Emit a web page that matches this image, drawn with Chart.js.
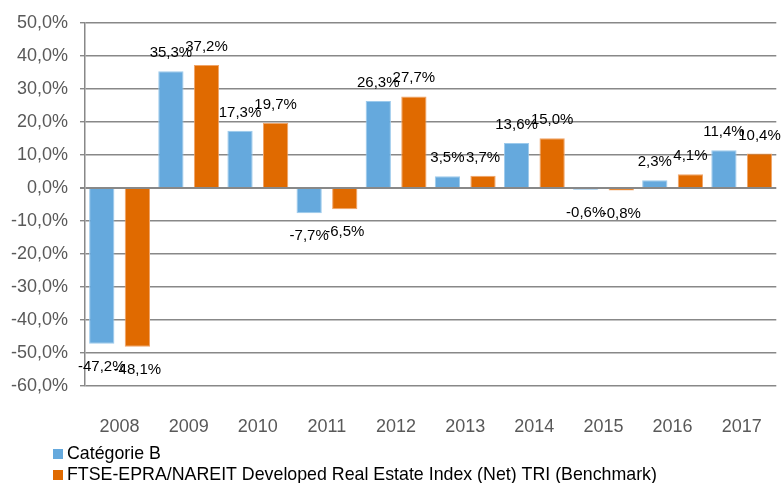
<!DOCTYPE html>
<html>
<head>
<meta charset="utf-8">
<script src="https://cdn.jsdelivr.net/npm/chart.js@4.4.1/dist/chart.umd.min.js"></script>
<style>
  html, body { margin: 0; padding: 0; background: #fff; }
  #wrap { width: 784px; height: 483px; }
</style>
</head>
<body>
<div id="wrap"><canvas id="c" width="784" height="483"></canvas></div>
<script>
const years = ['2008', '2009', '2010', '2011', '2012', '2013', '2014', '2015', '2016', '2017'];
const categorieB = [-47.2, 35.3, 17.3, -7.7, 26.3, 3.5, 13.6, -0.6, 2.3, 11.4];
const benchmark = [-48.1, 37.2, 19.7, -6.5, 27.7, 3.7, 15.0, -0.8, 4.1, 10.4];
const seriesNames = ['Catégorie B', 'FTSE-EPRA/NAREIT Developed Real Estate Index (Net) TRI (Benchmark)'];

const fmt = v => v.toFixed(1).replace('.', ',') + '%';

// value labels above / below each bar
const valueLabels = {
  id: 'valueLabels',
  afterDatasetsDraw(chart) {
    const ctx = chart.ctx;
    ctx.save();
    ctx.font = '15px "Liberation Sans", Arial, sans-serif';
    ctx.fillStyle = '#000';
    ctx.textAlign = 'center';
    ctx.textBaseline = 'alphabetic';
    chart.data.datasets.forEach((ds, i) => {
      chart.getDatasetMeta(i).data.forEach((bar, j) => {
        const v = ds.data[j];
        const y = v >= 0 ? bar.y - 14 : bar.y + 27;
        ctx.fillText(fmt(v), bar.x, y);
      });
    });
    ctx.restore();
  }
};

// legend stacked at the bottom left, one series per line
const bottomLegend = {
  id: 'bottomLegend',
  afterDraw(chart) {
    const ctx = chart.ctx;
    ctx.save();
    ctx.font = '17.8px "Liberation Sans", Arial, sans-serif';
    ctx.textBaseline = 'middle';
    chart.data.datasets.forEach((ds, i) => {
      const y = 454 + i * 21;
      ctx.fillStyle = ds.backgroundColor;
      ctx.fillRect(53, y - 5, 10, 10);
      ctx.fillStyle = '#000';
      ctx.fillText(ds.label, 67, y);
    });
    ctx.restore();
  }
};

new Chart(document.getElementById('c'), {
  type: 'bar',
  data: {
    labels: years,
    datasets: [
      { label: seriesNames[0], data: categorieB, backgroundColor: '#65a9dd', borderColor: '#9ccaec', borderWidth: 1 },
      { label: seriesNames[1], data: benchmark, backgroundColor: '#e06a00', borderColor: '#f0a468', borderWidth: 1 }
    ]
  },
  options: {
    responsive: false,
    animation: false,
    layout: { padding: { top: 18, right: 5, bottom: 42, left: 0 } },
    datasets: { bar: { categoryPercentage: 1.03, barPercentage: 0.71 } },
    plugins: {
      legend: { display: false },
      tooltip: { enabled: false }
    },
    scales: {
      x: {
        grid: { display: false },
        border: { display: false },
        ticks: { color: '#595959', font: { size: 18, family: '"Liberation Sans", Arial, sans-serif' }, padding: 22 },
        afterFit: s => { s.height = 55; }
      },
      y: {
        min: -60,
        max: 50,
        ticks: {
          stepSize: 10,
          color: '#595959',
          padding: 12,
          font: { size: 18, family: '"Liberation Sans", Arial, sans-serif' },
          callback: v => fmt(v)
        },
        grid: {
          color: '#888888',
          lineWidth: c => (c.tick && c.tick.value === 0 ? 2 : 1.4),
          tickLength: 5,
          tickColor: '#888888'
        },
        border: { display: true, color: '#888888', width: 1.5 },
        afterFit: s => { s.width = 85; }
      }
    }
  },
  plugins: [valueLabels, bottomLegend]
});
</script>
</body>
</html>
